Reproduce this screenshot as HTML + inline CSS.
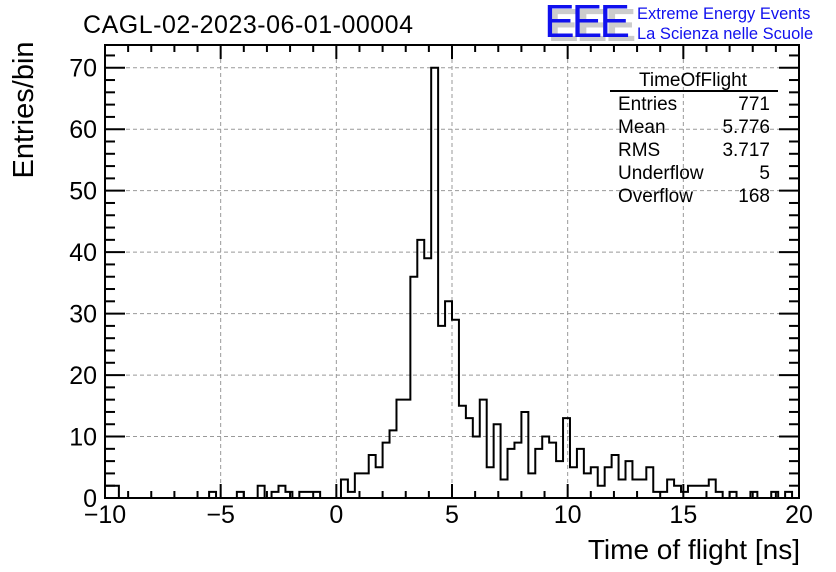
<!DOCTYPE html>
<html><head><meta charset="utf-8"><style>
body{margin:0;background:#fff;}
svg{display:block;font-family:"Liberation Sans",Arial,sans-serif;}
</style></head><body>
<svg id="chart" width="836" height="572" viewBox="0 0 836 572" xmlns="http://www.w3.org/2000/svg">
<rect x="0" y="0" width="836" height="572" fill="#fff"/>
<g id="grid"></g>
<g id="ticks"></g>
<path id="hist" fill="none" stroke="#000" stroke-width="2"/>
<rect x="105" y="45" width="694" height="453" fill="none" stroke="#000" stroke-width="2"/>
<g id="labels" font-size="25" fill="#000"></g>
<text x="83" y="33" font-size="25" textLength="330">CAGL-02-2023-06-01-00004</text>
<text transform="translate(33,110) rotate(-90)" text-anchor="middle" font-size="29">Entries/bin</text>
<text x="800" y="559" text-anchor="end" font-size="28">Time of flight [ns]</text>
<g>
<text x="548" y="41" font-size="46" fill="#ccc" font-weight="bold" textLength="88">EEE</text>
<text x="544" y="37" font-size="46" fill="#1010ee" textLength="86">EEE</text>
<text x="637" y="19" font-size="16.5" fill="#1010ee">Extreme Energy Events</text>
<text x="637" y="39" font-size="16.5" fill="#1010ee">La Scienza nelle Scuole</text>
</g>
<g font-size="19">
<text x="693" y="86" text-anchor="middle">TimeOfFlight</text>
<line x1="610" y1="91" x2="778" y2="91" stroke="#000" stroke-width="2"/>
<text x="618" y="110">Entries</text><text x="770" y="110" text-anchor="end">771</text>
<text x="618" y="133">Mean</text><text x="770" y="133" text-anchor="end">5.776</text>
<text x="618" y="156">RMS</text><text x="770" y="156" text-anchor="end">3.717</text>
<text x="618" y="179">Underflow</text><text x="770" y="179" text-anchor="end">5</text>
<text x="618" y="202">Overflow</text><text x="770" y="202" text-anchor="end">168</text>
</g>
</svg>
<script>
const counts = [2,2,0,0,0,0,0,0,0,0, 0,0,0,0,0,1,0,0,0,1, 0,0,2,0,1,2,1,0,1,1,
 1,0,0,0,3,1,4,4,7,5, 9,11,16,16,36,42,39,70,28,32, 29,15,13,10,16,5,12,3,8,9,
 14,4,8,10,9,6,13,5,8,4, 5,2,5,7,3,6,3,3,5,1, 1,3,2,1,2,2,2,3,1,0, 1,0,0,1,0,0,1,0,1,0];
const xMin = -10, xMax = 20, yMin = 0, yMax = 73.7;
const xTicks = [-10,-5,0,5,10,15,20];
const yTicks = [0,10,20,30,40,50,60,70];
const L=105,R=799,T=45,B=498;
const sx=v=>L+(v-xMin)/(xMax-xMin)*(R-L);
const sy=v=>B-(v-yMin)/(yMax-yMin)*(B-T);
const NS="http://www.w3.org/2000/svg";
function mk(tag,attrs,parent){const e=document.createElementNS(NS,tag);for(const k in attrs)e.setAttribute(k,attrs[k]);document.getElementById(parent).appendChild(e);return e;}
const w=(xMax-xMin)/counts.length;
let d="M"+sx(xMin)+","+sy(0);
counts.forEach((c,i)=>{const x0=sx(xMin+i*w),x1=sx(xMin+(i+1)*w);d+=" L"+x0+","+sy(c)+" L"+x1+","+sy(c);});
d+=" L"+sx(xMax)+","+sy(0);
document.getElementById('hist').setAttribute('d',d);
xTicks.forEach(v=>{
 if(v>xMin&&v<xMax){const g=mk('line',{x1:sx(v),x2:sx(v),y1:T,y2:B,stroke:'#999','stroke-dasharray':'4,3','stroke-width':1},'grid');
 }
 const t=mk('text',{x:sx(v),y:523,'text-anchor':'middle'},'labels');t.textContent=(v<0?'\u2212'+(-v):v);
 
});
yTicks.forEach(v=>{
 if(v>yMin){const g=mk('line',{x1:L,x2:R,y1:sy(v),y2:sy(v),stroke:'#999','stroke-dasharray':'4,3','stroke-width':1},'grid');
 }
 const t=mk('text',{x:97,y:sy(v)+9,'text-anchor':'end'},'labels');t.textContent=v;
 
});
for(let v=xMin;v<=xMax;v+=1){const len=(v%5===0)?14:7;
 const a=mk('line',{x1:sx(v),x2:sx(v),y1:B,y2:B-len,stroke:'#000','stroke-width':2},'ticks');
 
 const b=mk('line',{x1:sx(v),x2:sx(v),y1:T,y2:T+len,stroke:'#000','stroke-width':2},'ticks');
 }
for(let v=0;v<=yMax;v+=2){const len=(v%10===0)?20:10;
 const a=mk('line',{x1:L,x2:L+len,y1:sy(v),y2:sy(v),stroke:'#000','stroke-width':2},'ticks');
 
 const b=mk('line',{x1:R,x2:R-len,y1:sy(v),y2:sy(v),stroke:'#000','stroke-width':2},'ticks');
 }
</script>
</body></html>
